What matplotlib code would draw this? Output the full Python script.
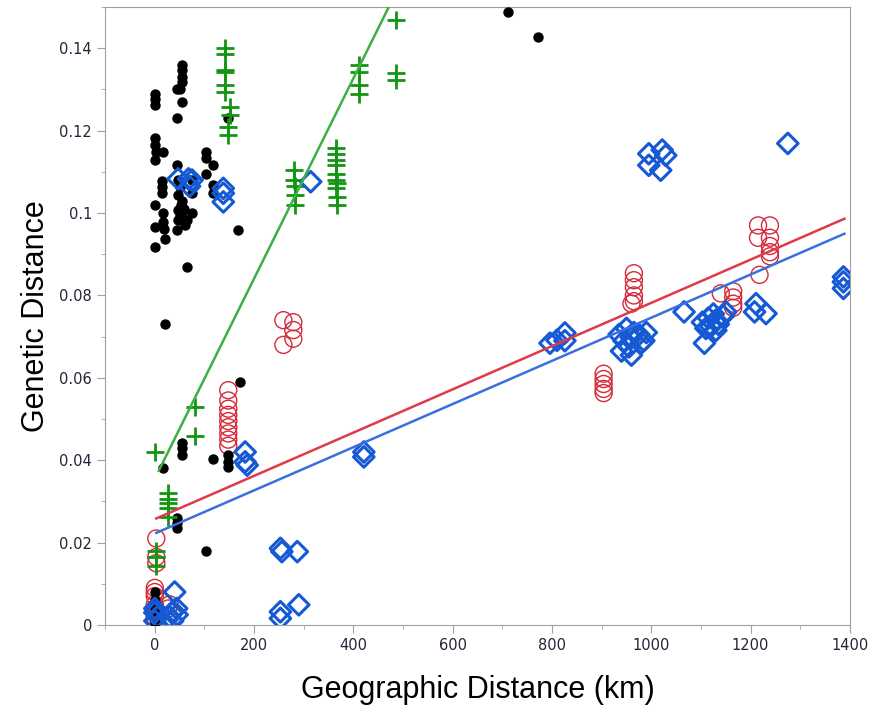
import numpy as np
import matplotlib
matplotlib.use("Agg")
import matplotlib.pyplot as plt
from matplotlib.ticker import MultipleLocator, FuncFormatter

# black dots
black_x = [0, 0, 0, 0, 0, 2, 0, 16, 14, 14, 14, 0, 0, 17, 17, 18, 0, 20,
           54, 54, 54, 54, 50, 44, 54, 44,
           44, 47, 47, 47, 47, 44, 50, 54, 54, 50, 58, 74, 74, 74, 64, 64, 60, 52,
           103, 103, 103, 118, 117, 117, 167, 148,
           20, 172, 54, 54, 54, 117, 148, 148, 148, 16, 44, 44, 44, 103,
           0, 0, 0, 0, 0, 0, 0, 0,
           712, 771]
black_y = [0.129, 0.1278, 0.1262, 0.1181, 0.1165, 0.1149, 0.1128, 0.1149, 0.1077, 0.1064, 0.1048, 0.1019,
           0.0967, 0.0999, 0.0979, 0.0962, 0.0918, 0.0938,
           0.1359, 0.1347, 0.1331, 0.1318, 0.1302, 0.130, 0.127, 0.123,
           0.1116, 0.108, 0.1043, 0.1007, 0.0983, 0.0959, 0.1063, 0.103, 0.100, 0.0995, 0.101, 0.108,
           0.1048, 0.0999, 0.0983, 0.0869, 0.097, 0.102,
           0.1149, 0.1133, 0.1096, 0.1116, 0.1068, 0.1048, 0.0959, 0.123,
           0.073, 0.059, 0.0441, 0.0429, 0.0413, 0.0402, 0.0413, 0.0396, 0.0384, 0.0382, 0.0259, 0.0247,
           0.0236, 0.018,
           0.008, 0.006, 0.005, 0.004, 0.003, 0.002, 0.001, 0.0005,
           0.1487, 0.1428]

# green plus
green_x = [142, 142, 142, 142, 142, 142, 152, 152, 147, 147,
           280, 280, 282, 282, 282,
           364, 364, 364, 364, 364, 364, 366, 364, 366, 366,
           412, 412, 412, 412,
           486, 486, 486,
           0, 81, 81,
           27, 27, 27, 27, 27,
           3, 3, 3]
green_y = [0.140, 0.1387, 0.1347, 0.1343, 0.131, 0.1294, 0.1258, 0.1238, 0.1209, 0.119,
           0.1104, 0.108, 0.1065, 0.1043, 0.1019,
           0.1157, 0.1144, 0.1128, 0.1116, 0.1096, 0.108, 0.1072, 0.106, 0.1039, 0.1019,
           0.1359, 0.1343, 0.131, 0.129,
           0.1468, 0.1339, 0.1322,
           0.042, 0.053, 0.0459,
           0.032, 0.0307, 0.0295, 0.0283, 0.0263,
           0.018, 0.0165, 0.0143]

# red circles
red_x = [148, 148, 148, 148, 148, 148, 148, 148, 148,
         259, 279, 279, 259, 279,
         3, 3, 3, 0, 0, 0, 0, 0, 0, 0, 0, 27, 30,
         904, 904, 904, 904, 904,
         965, 965, 965, 965, 965, 960,
         1215, 1239, 1215, 1239, 1239, 1239, 1239, 1218,
         1140, 1165, 1165, 1165, 1165]
red_y = [0.057, 0.0545, 0.0525, 0.051, 0.0495, 0.048, 0.0465, 0.045, 0.0435,
         0.074, 0.0735, 0.0716, 0.068, 0.0695,
         0.021, 0.0165, 0.015, 0.009, 0.008, 0.007, 0.005, 0.004, 0.003, 0.002, 0.001, 0.004, 0.005,
         0.061, 0.0597, 0.0585, 0.0573, 0.0563,
         0.0854, 0.0837, 0.082, 0.080, 0.0786, 0.078,
         0.097, 0.097, 0.094, 0.094, 0.092, 0.0905, 0.0895, 0.085,
         0.0805, 0.081, 0.0795, 0.078, 0.077]

# blue diamonds
blue_x = [47, 68, 75, 70, 138, 138, 138,
          314,
          995, 1022, 1029, 995, 1019, 1275,
          1387, 1387, 1387,
          796, 810, 826, 826,
          1066,
          935, 945, 950, 955, 960, 965, 975, 985, 940, 960, 980, 990,
          1103, 1110, 1115, 1120, 1125, 1130, 1135, 1145, 1107, 1130, 1150,
          1211, 1208, 1231,
          421, 421,
          182, 182, 186,
          253, 256, 287,
          253, 253, 290,
          40, 44, 34, 30, 36, 0, 0, 5, 0, 45]
blue_y = [0.1083, 0.1083, 0.108, 0.1065, 0.106, 0.1048, 0.1027,
          0.1076,
          0.1144, 0.1153, 0.114, 0.1116, 0.1104, 0.1169,
          0.0845, 0.0833, 0.0817,
          0.0684, 0.0691, 0.0709, 0.069,
          0.076,
          0.0705, 0.069, 0.072, 0.0675, 0.0698, 0.071, 0.0705, 0.069, 0.0665, 0.0655, 0.0685, 0.071,
          0.0735, 0.072, 0.0745, 0.0725, 0.0755, 0.074, 0.073, 0.075, 0.0684, 0.0715, 0.076,
          0.078, 0.076, 0.0756,
          0.042, 0.0408,
          0.042, 0.0396, 0.0388,
          0.0186, 0.0178, 0.0178,
          0.0032, 0.0016, 0.0049,
          0.008, 0.004, 0.003, 0.002, 0.001, 0.004, 0.003, 0.002, 0.001, 0.0025]

# fitted lines: intercept, slope, x range
green_fit = (0.0355, 0.000243, 8, 480)
red_fit = (0.0257, 5.25e-5, 3, 1389)
blue_fit = (0.0222, 5.24e-5, 3, 1389)

fig = plt.figure(figsize=(8.69, 7.09), dpi=100)
ax = fig.add_axes([0.121, 0.1185, 0.857, 0.8715])

ax.scatter(red_x, red_y, s=150, facecolors='none', edgecolors='#d42a3a', linewidths=1.0, zorder=2)
ax.scatter(black_x, black_y, s=42, color='black', zorder=3)
ax.scatter(green_x, green_y, s=170, marker='+', color='#129512', linewidths=2.0, zorder=4)
ax.scatter(blue_x, blue_y, s=110, marker='D', facecolors='none', edgecolors='#1659d4', linewidths=2.2, zorder=5)

for (b, m, x0, x1), c in [(green_fit, '#3cb043'), (red_fit, '#df3a4a'), (blue_fit, '#3a6fe0')]:
    xs = np.array([x0, x1])
    ax.plot(xs, b + m * xs, color=c, lw=1.8, zorder=6)

ax.set_xlim(-100, 1400)
ax.set_ylim(0, 0.15)
ax.xaxis.set_major_locator(MultipleLocator(200))
ax.xaxis.set_minor_locator(MultipleLocator(100))
ax.yaxis.set_major_locator(MultipleLocator(0.02))
ax.yaxis.set_minor_locator(MultipleLocator(0.01))
ax.yaxis.set_major_formatter(FuncFormatter(lambda v, p: f"{v:g}"))

for sp in ax.spines.values():
    sp.set_color('#a0a0a0')
ax.tick_params(which='both', direction='out', color='#a0a0a0')
ax.tick_params(which='major', length=6, labelsize=10.5, labelcolor='#24243a')
ax.tick_params(which='minor', length=3)
for lab in ax.get_xticklabels() + ax.get_yticklabels():
    lab.set_family(['Liberation Sans Narrow', 'DejaVu Sans'])

ax.set_xlabel('Geographic Distance (km)', fontsize=22, family='Liberation Sans', labelpad=16)
ax.set_ylabel('Genetic Distance', fontsize=22, family='Liberation Sans', labelpad=6)

fig.savefig('out.png', dpi=100)
